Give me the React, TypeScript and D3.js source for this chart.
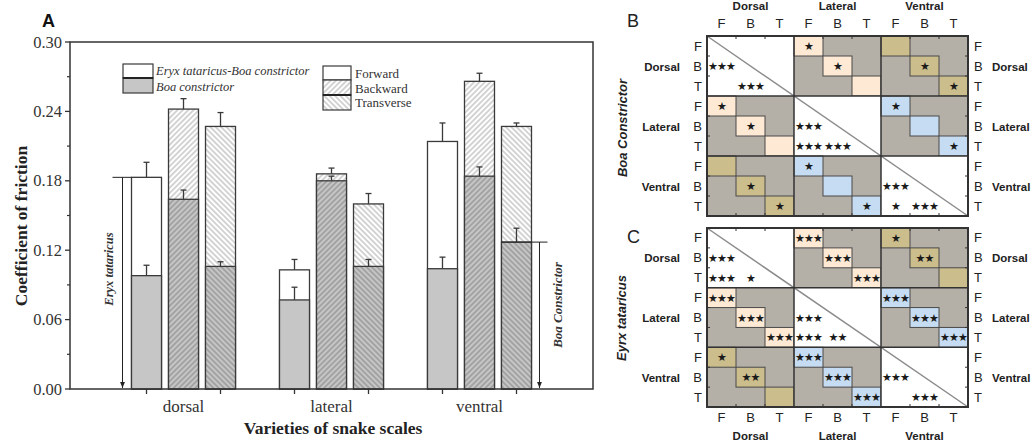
import React from 'react';
import * as d3 from 'd3';

// ---- panel A data ----
const categories = ['dorsal', 'lateral', 'ventral'];
const directions = ['Forward', 'Backward', 'Transverse'];
// Eryx tataricus-Boa constrictor (white part), per category: [F, B, T]
const eryxValues = [
  [0.183, 0.242, 0.227],
  [0.103, 0.186, 0.160],
  [0.214, 0.266, 0.227],
];
const eryxErrors = [
  [0.013, 0.009, 0.012],
  [0.009, 0.005, 0.009],
  [0.016, 0.007, 0.003],
];
// Boa constrictor (grey part)
const boaValues = [
  [0.098, 0.164, 0.106],
  [0.077, 0.180, 0.106],
  [0.104, 0.184, 0.127],
];
const boaErrors = [
  [0.009, 0.008, 0.004],
  [0.011, 0.004, 0.006],
  [0.010, 0.008, 0.012],
];
const yTicks = [0, 0.06, 0.12, 0.18, 0.24, 0.3];
const yMinorTicks = [0.03, 0.09, 0.15, 0.21, 0.27];
const eryxMark = 0.183;
const boaMark = 0.127;

// ---- panels B, C data ----
const matrixGroups = ['Dorsal', 'Lateral', 'Ventral'];
const matrixLevels = ['F', 'B', 'T'];
const starsB: [number, number, string][] = [
  [1, 0, '***'], [2, 1, '***'],
  [0, 3, '*'], [1, 4, '*'],
  [1, 7, '*'], [2, 8, '*'],
  [3, 0, '*'], [4, 1, '*'],
  [4, 3, '***'], [5, 3, '***'], [5, 4, '***'],
  [3, 6, '*'], [5, 8, '*'],
  [7, 1, '*'], [8, 2, '*'],
  [6, 3, '*'], [8, 5, '*'],
  [7, 6, '***'], [8, 6, '*'], [8, 7, '***'],
];
const starsC: [number, number, string][] = [
  [1, 0, '***'], [2, 0, '***'], [2, 1, '*'],
  [0, 3, '***'], [1, 4, '***'], [2, 5, '***'],
  [0, 6, '*'], [1, 7, '**'],
  [3, 0, '***'], [4, 1, '***'], [5, 2, '***'],
  [4, 3, '***'], [5, 3, '***'], [5, 4, '**'],
  [3, 6, '***'], [4, 7, '***'], [5, 8, '***'],
  [6, 0, '*'], [7, 1, '**'],
  [6, 3, '***'], [7, 4, '***'], [8, 5, '***'],
  [7, 6, '***'], [8, 7, '***'],
];

const serif = 'Liberation Serif, Times New Roman, serif';
const sans = 'Liberation Sans, Arial, sans-serif';
const barStroke = '#3a3a3a';
const greyFill = '#c6c6c6';

const pairColor = (a: number, b: number) => {
  const k = [a, b].sort().join('');
  if (k === '01') return '#fde9d4';
  if (k === '02') return '#cbbd8c';
  return '#c6dcf2';
};

function Matrix({ y0, y1, stars, top, bottom }: { y0: number; y1: number; stars: [number, number, string][]; top: boolean; bottom: boolean }) {
  const idx = d3.range(9);
  const x = d3.scaleBand<number>().domain(idx).range([707, 968]);
  const y = d3.scaleBand<number>().domain(idx).range([y0, y1]);
  const cw = x.bandwidth();
  const ch = y.bandwidth();
  const blocks: JSX.Element[] = [];
  for (let gi = 0; gi < 3; gi++) {
    for (let gj = 0; gj < 3; gj++) {
      const bx = x(gj * 3)!;
      const by = y(gi * 3)!;
      if (gi === gj) {
        blocks.push(<rect key={`b${gi}${gj}`} x={bx} y={by} width={cw * 3} height={ch * 3} fill="#fff" />);
      } else {
        blocks.push(<rect key={`b${gi}${gj}`} x={bx} y={by} width={cw * 3} height={ch * 3} fill="#b4afa7" />);
        for (let k = 0; k < 3; k++) {
          blocks.push(
            <rect key={`d${gi}${gj}${k}`} x={x(gj * 3 + k)} y={y(gi * 3 + k)} width={cw} height={ch}
              fill={pairColor(gi, gj)} stroke="#4a4a4a" strokeWidth={1} />
          );
        }
      }
    }
  }
  const ticks: JSX.Element[] = [];
  idx.slice(1).forEach((i) => {
    if (i % 3 === 0) return;
    const tx = x(i)!;
    const ty = y(i)!;
    ticks.push(<line key={`tt${i}`} x1={tx} x2={tx} y1={y0} y2={y0 + 3} stroke="#333" />);
    ticks.push(<line key={`tb${i}`} x1={tx} x2={tx} y1={y1} y2={y1 - 3} stroke="#333" />);
    ticks.push(<line key={`tl${i}`} x1={707} x2={710} y1={ty} y2={ty} stroke="#333" />);
    ticks.push(<line key={`tr${i}`} x1={968} x2={965} y1={ty} y2={ty} stroke="#333" />);
  });
  return (
    <g>
      {blocks}
      <line x1={707} y1={y0} x2={968} y2={y1} stroke="#8c8c8c" strokeWidth={1.5} />
      {[3, 6].map((i) => (
        <g key={`g${i}`}>
          <line x1={x(i)} x2={x(i)} y1={y0} y2={y1} stroke="#333" strokeWidth={1.5} />
          <line x1={707} x2={968} y1={y(i)} y2={y(i)} stroke="#333" strokeWidth={1.5} />
        </g>
      ))}
      <rect x={707} y={y0} width={261} height={y1 - y0} fill="none" stroke="#333" strokeWidth={2} />
      {ticks}
      {stars.map(([r, c, s], i) => (
        <text key={`s${i}`} x={x(c)! + cw / 2} y={y(r)! + ch / 2 + 4} textAnchor="middle"
          fontFamily="DejaVu Sans, sans-serif" fontSize={11} letterSpacing={-0.9} fill="#1a1a1a">
          {s.replace(/\*/g, '★')}
        </text>
      ))}
      {idx.map((i) => (
        <g key={`l${i}`} fontFamily={sans} fontSize={13} fill="#222">
          <text x={702} y={y(i)! + ch / 2 + 4.5} textAnchor="end">{matrixLevels[i % 3]}</text>
          <text x={974} y={y(i)! + ch / 2 + 4.5}>{matrixLevels[i % 3]}</text>
          {top && <text x={x(i)! + cw / 2} y={28} textAnchor="middle">{matrixLevels[i % 3]}</text>}
          {bottom && <text x={x(i)! + cw / 2} y={422} textAnchor="middle">{matrixLevels[i % 3]}</text>}
        </g>
      ))}
      {matrixGroups.map((g, gi) => (
        <g key={`mg${g}`} fontFamily={sans} fontSize={11.5} fontWeight="bold" fill="#222">
          <text x={680} y={y(gi * 3 + 1)! + ch / 2 + 4.5} textAnchor="end">{g}</text>
          <text x={992} y={y(gi * 3 + 1)! + ch / 2 + 4.5}>{g}</text>
          {top && <text x={x(gi * 3 + 1)! + cw / 2} y={10} textAnchor="middle">{g}</text>}
          {bottom && <text x={x(gi * 3 + 1)! + cw / 2} y={440} textAnchor="middle">{g}</text>}
        </g>
      ))}
    </g>
  );
}

export default function App() {
  const x = d3.scaleBand<string>().domain(categories).range([70, 593]).paddingOuter(0.267);
  const off = d3.scalePoint<string>().domain(directions).range([-37, 37]);
  const y = d3.scaleLinear().domain([0, 0.3]).range([389, 42]);
  const bw = 30;
  const center = (c: string) => x(c)! + x.bandwidth() / 2;
  const hatchId = (di: number, dark: boolean) => (di === 1 ? 'hb' : 'ht') + (dark ? 'd' : 'l');

  const bars: JSX.Element[] = [];
  categories.forEach((c, ci) => {
    directions.forEach((d, di) => {
      const x0 = center(c) + off(d)! - bw / 2;
      const cx = x0 + bw / 2;
      const ev = eryxValues[ci][di];
      const bv = boaValues[ci][di];
      const ee = eryxErrors[ci][di];
      const be = boaErrors[ci][di];
      bars.push(
        <g key={`${c}-${d}`}>
          <rect x={x0} y={y(ev)} width={bw} height={y(0) - y(ev)} fill="#fff" />
          {di > 0 && <rect x={x0} y={y(ev)} width={bw} height={y(0) - y(ev)} fill={`url(#${hatchId(di, false)})`} />}
          <rect x={x0} y={y(ev)} width={bw} height={y(0) - y(ev)} fill="none" stroke={barStroke} strokeWidth={1.3} />
          <line x1={cx} x2={cx} y1={y(ev)} y2={y(ev + ee)} stroke={barStroke} strokeWidth={1.3} />
          <line x1={cx - 3} x2={cx + 3} y1={y(ev + ee)} y2={y(ev + ee)} stroke={barStroke} strokeWidth={1.3} />
          <rect x={x0} y={y(bv)} width={bw} height={y(0) - y(bv)} fill={greyFill} />
          {di > 0 && <rect x={x0} y={y(bv)} width={bw} height={y(0) - y(bv)} fill={`url(#${hatchId(di, true)})`} />}
          <rect x={x0} y={y(bv)} width={bw} height={y(0) - y(bv)} fill="none" stroke={barStroke} strokeWidth={1.3} />
          <line x1={cx} x2={cx} y1={y(bv)} y2={y(bv + be)} stroke={barStroke} strokeWidth={1.3} />
          <line x1={cx - 3} x2={cx + 3} y1={y(bv + be)} y2={y(bv + be)} stroke={barStroke} strokeWidth={1.3} />
        </g>
      );
    });
  });

  const eryxLeft = center('dorsal') + off('Forward')! - bw / 2;
  const boaLeft = center('ventral') + off('Transverse')! - bw / 2;

  return (
    <div style={{ position: 'absolute', left: 0, top: 0 }}>
      <svg width={1034} height={442} style={{ display: 'block', background: '#fff' }}>
        <defs>
          {[['hbl', 45, '#a0a0a0'], ['hbd', 45, '#7a7a7a'], ['htl', -45, '#a0a0a0'], ['htd', -45, '#7a7a7a']].map(([id, rot, col]) => (
            <pattern key={id as string} id={id as string} patternUnits="userSpaceOnUse" width={3.8} height={3.8}
              patternTransform={`rotate(${rot})`}>
              <line x1={1.9} x2={1.9} y1={0} y2={3.8} stroke={col as string} strokeWidth={0.9} />
            </pattern>
          ))}
          <marker id="arr" viewBox="0 0 10 10" refX={10} refY={5} markerWidth={6} markerHeight={6} orient="auto">
            <path d="M0,1 L10,5 L0,9 Z" fill="#222" />
          </marker>
        </defs>

        {/* panel A */}
        <text x={42} y={27} fontFamily={sans} fontWeight="bold" fontSize={18} fill="#111">A</text>
        {bars}
        <rect x={70} y={42} width={523} height={347} fill="none" stroke="#333" strokeWidth={1.5} />
        {yTicks.map((t) => (
          <g key={`yt${t}`}>
            <line x1={65} x2={70} y1={y(t)} y2={y(t)} stroke="#333" strokeWidth={1.3} />
            <text x={62} y={y(t) + 5.5} textAnchor="end" fontFamily={serif} fontSize={16.5} fill="#333">{t.toFixed(2)}</text>
          </g>
        ))}
        {yMinorTicks.map((t) => (
          <line key={`ym${t}`} x1={67} x2={70} y1={y(t)} y2={y(t)} stroke="#333" strokeWidth={1.2} />
        ))}
        {categories.map((c) => (
          <g key={`xc${c}`}>
            <line x1={center(c) - 37} x2={center(c) - 37} y1={389} y2={394} stroke="#333" strokeWidth={1.3} />
            <line x1={center(c) + 37} x2={center(c) + 37} y1={389} y2={394} stroke="#333" strokeWidth={1.3} />
            <text x={center(c)} y={412} textAnchor="middle" fontFamily={serif} fontSize={17} fill="#333">{c}</text>
          </g>
        ))}
        <text x={333} y={434} textAnchor="middle" fontFamily={serif} fontWeight="bold" fontSize={17.5} fill="#222">Varieties of snake scales</text>
        <text transform="translate(27,226) rotate(-90)" textAnchor="middle" fontFamily={serif} fontWeight="bold" fontSize={17.5} fill="#222">Coefficient of friction</text>

        {/* annotations */}
        <line x1={eryxLeft - 19} x2={eryxLeft} y1={y(eryxMark)} y2={y(eryxMark)} stroke="#222" strokeWidth={1} />
        <line x1={eryxLeft - 9} x2={eryxLeft - 9} y1={y(eryxMark)} y2={y(0) - 1} stroke="#222" strokeWidth={1} markerEnd="url(#arr)" />
        <text transform={`translate(113,269) rotate(-90)`} textAnchor="middle" fontFamily={serif} fontStyle="italic" fontWeight="bold" fontSize={12.5} fill="#333">Eryx tataricus</text>
        <line x1={boaLeft} x2={boaLeft + 46} y1={y(boaMark)} y2={y(boaMark)} stroke="#222" strokeWidth={1} />
        <line x1={boaLeft + 38} x2={boaLeft + 38} y1={y(boaMark)} y2={y(0) - 1} stroke="#222" strokeWidth={1} markerEnd="url(#arr)" />
        <text transform={`translate(562,305) rotate(-90)`} textAnchor="middle" fontFamily={serif} fontStyle="italic" fontWeight="bold" fontSize={13} fill="#333">Boa  Constrictor</text>

        {/* legends */}
        <rect x={123} y={64} width={30} height={14} fill="#fff" stroke={barStroke} strokeWidth={1.2} />
        <rect x={123} y={78} width={30} height={15} fill={greyFill} stroke={barStroke} strokeWidth={1.2} />
        <line x1={123} x2={153} y1={78} y2={78} stroke="#222" strokeWidth={2} />
        <text x={156} y={75} fontFamily={serif} fontStyle="italic" fontSize={12.5} fill="#333">Eryx tataricus-Boa constrictor</text>
        <text x={156} y={91} fontFamily={serif} fontStyle="italic" fontSize={12.5} fill="#333">Boa constrictor</text>

        <rect x={323} y={66} width={28} height={14} fill="#fff" stroke={barStroke} strokeWidth={1.2} />
        <rect x={323} y={80} width={28} height={15} fill="#fff" />
        <rect x={323} y={80} width={28} height={15} fill="url(#hbl)" stroke={barStroke} strokeWidth={1.2} />
        <rect x={323} y={95} width={28} height={15} fill="#fff" />
        <rect x={323} y={95} width={28} height={15} fill="url(#htl)" stroke={barStroke} strokeWidth={1.2} />
        <line x1={323} x2={351} y1={95} y2={95} stroke="#222" strokeWidth={2} />
        {directions.map((d, i) => (
          <text key={`lg${d}`} x={355} y={78 + i * 14.5} fontFamily={serif} fontSize={13} fill="#333">{d}</text>
        ))}

        {/* panels B and C */}
        <text x={627} y={27} fontFamily={sans} fontSize={18} fill="#222">B</text>
        <text x={627} y={243} fontFamily={sans} fontSize={18} fill="#222">C</text>
        <text transform="translate(627,128) rotate(-90)" textAnchor="middle" fontFamily={sans} fontStyle="italic" fontWeight="bold" fontSize={13} fill="#222">Boa Constrictor</text>
        <text transform="translate(626,318) rotate(-90)" textAnchor="middle" fontFamily={sans} fontStyle="italic" fontWeight="bold" fontSize={13} fill="#222">Eyrx tataricus</text>
        <Matrix y0={36} y1={216} stars={starsB} top={true} bottom={false} />
        <Matrix y0={228} y1={407} stars={starsC} top={false} bottom={true} />
      </svg>
    </div>
  );
}
